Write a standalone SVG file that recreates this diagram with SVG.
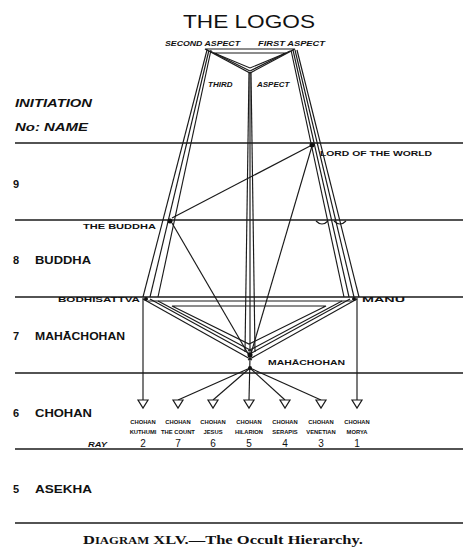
<svg xmlns="http://www.w3.org/2000/svg" xmlns:xlink="http://www.w3.org/1999/xlink" width="463" height="554" viewBox="0 0 463 554">
<style>
.ln{stroke:#1a1a1a;stroke-width:1.15;fill:none}
.hl{stroke:#1a1a1a;stroke-width:1.4}
.t{font-family:"Liberation Sans",Arial,sans-serif;fill:#111}
.it{font-style:italic;font-weight:bold}
.lv{font-size:11px}
.nl{font-size:8px;font-weight:bold}
.ch{font-size:5.8px;font-weight:bold}
.dot{fill:#111}
</style>
<defs>
<path id="tri" d="M-5,0 L5,0 L0,8 Z" fill="#fff" stroke="#1a1a1a" stroke-width="1.2"/>
</defs>
<rect width="463" height="554" fill="#fff"/>

<g id="levels">
<line class="hl" x1="15" y1="143" x2="463" y2="143"/>
<line class="hl" x1="15" y1="220" x2="463" y2="220"/>
<line class="hl" x1="15" y1="297" x2="463" y2="297"/>
<line class="hl" x1="15" y1="373" x2="463" y2="373"/>
<line class="hl" x1="15" y1="449" x2="463" y2="449"/>
<line class="hl" x1="15" y1="523" x2="463" y2="523" stroke-width="1.8"/>
<text class="t it" font-size="10.5" x="15" y="107" textLength="77" lengthAdjust="spacingAndGlyphs">INITIATION</text>
<text class="t it" font-size="10.5" x="15" y="131" textLength="73" lengthAdjust="spacingAndGlyphs">No:  NAME</text>
<text class="t lv" x="13" y="188" font-weight="bold">9</text>
<text class="t lv" x="13" y="264" font-weight="bold">8</text>
<text class="t lv" x="35" y="264" font-weight="bold" textLength="56" lengthAdjust="spacingAndGlyphs">BUDDHA</text>
<text class="t lv" x="13" y="340" font-weight="bold">7</text>
<text class="t lv" x="35" y="340" font-weight="bold" textLength="90" lengthAdjust="spacingAndGlyphs">MAHĀCHOHAN</text>
<text class="t lv" x="13" y="417" font-weight="bold">6</text>
<text class="t lv" x="35" y="417" font-weight="bold" textLength="57" lengthAdjust="spacingAndGlyphs">CHOHAN</text>
<text class="t lv" x="13" y="493" font-weight="bold">5</text>
<text class="t lv" x="35" y="493" font-weight="bold" textLength="57" lengthAdjust="spacingAndGlyphs">ASEKHA</text>
</g>

<g id="connectors">
<polygon class="ln" points="205,49 295,49 250,73" stroke-width="1.4"/>
<polygon class="ln" points="214,53 286,53 250,68"/>
<line class="ln" x1="210" y1="51" x2="250" y2="71"/>
<line class="ln" x1="290" y1="51" x2="250" y2="71"/>
<line class="ln" x1="207" y1="50" x2="143" y2="297"/>
<line class="ln" x1="209" y1="50" x2="150" y2="297"/>
<line class="ln" x1="211" y1="50" x2="158" y2="297"/>
<line class="ln" x1="291" y1="50" x2="344" y2="297"/>
<line class="ln" x1="293" y1="50" x2="349" y2="297"/>
<line class="ln" x1="295" y1="50" x2="354" y2="297"/>
<line class="ln" x1="297" y1="50" x2="359" y2="297"/>
<line class="ln" x1="249" y1="72" x2="245" y2="352"/>
<line class="ln" x1="250" y1="72" x2="250" y2="355"/>
<line class="ln" x1="251" y1="72" x2="255" y2="352"/>
<line class="ln" x1="172" y1="218" x2="312" y2="145"/>
<line class="ln" x1="172" y1="223" x2="250" y2="357"/>
<line class="ln" x1="312" y1="146" x2="250" y2="357"/>
<path class="ln" d="M316,221 Q322,227 328,221 M334,221 Q340,227 346,221"/>
<line class="ln" x1="148" y1="301" x2="352" y2="301"/>
<line class="ln" x1="143" y1="299" x2="252" y2="360"/>
<line class="ln" x1="150" y1="299" x2="252" y2="355"/>
<line class="ln" x1="158" y1="301" x2="252" y2="351"/>
<line class="ln" x1="357" y1="299" x2="248" y2="360"/>
<line class="ln" x1="350" y1="299" x2="248" y2="355"/>
<line class="ln" x1="342" y1="301" x2="248" y2="351"/>
<polygon class="ln" points="172,306 326,306 249,344"/>
<line class="ln" x1="143" y1="298" x2="143" y2="400"/>
<line class="ln" x1="357" y1="298" x2="357" y2="400"/>
<line class="ln" x1="250" y1="368" x2="178" y2="400"/>
<line class="ln" x1="250" y1="368" x2="213" y2="400"/>
<line class="ln" x1="250" y1="357" x2="249" y2="400"/>
<line class="ln" x1="250" y1="368" x2="285" y2="400"/>
<line class="ln" x1="250" y1="368" x2="321" y2="400"/>
</g>

<g id="top">
<text class="t" x="183" y="28" font-size="19" textLength="132" lengthAdjust="spacingAndGlyphs">THE LOGOS</text>
<text class="t it" x="165" y="46" font-size="8" textLength="75" lengthAdjust="spacingAndGlyphs">SECOND ASPECT</text>
<text class="t it" x="258" y="46" font-size="8" textLength="67" lengthAdjust="spacingAndGlyphs">FIRST ASPECT</text>
<text class="t it" font-size="8"><tspan x="208" y="87">THIRD</tspan><tspan x="257" y="87">ASPECT</tspan></text>
</g>

<g id="lord-of-the-world">
<circle class="dot" cx="312" cy="145" r="2.5"/>
<text class="t nl" x="320" y="156" textLength="112" lengthAdjust="spacingAndGlyphs">LORD OF THE WORLD</text>
</g>
<g id="the-buddha">
<circle class="dot" cx="170" cy="221" r="2.5"/>
<text class="t nl" x="83" y="229" textLength="73" lengthAdjust="spacingAndGlyphs">THE BUDDHA</text>
</g>
<g id="bodhisattva">
<circle class="dot" cx="146" cy="299" r="2"/>
<text class="t nl" x="58" y="302" textLength="82" lengthAdjust="spacingAndGlyphs">BODHISATTVA</text>
</g>
<g id="manu">
<circle class="dot" cx="354" cy="299" r="2"/>
<text class="t nl" x="362" y="302" textLength="43" lengthAdjust="spacingAndGlyphs">MANU</text>
</g>
<g id="mahachohan">
<circle class="dot" cx="250" cy="355" r="2.5"/>
<circle class="dot" cx="250" cy="368" r="2"/>
<text class="t nl" x="268" y="365" textLength="77" lengthAdjust="spacingAndGlyphs">MAHĀCHOHAN</text>
</g>

<g id="chohans">
<use xlink:href="#tri" x="143" y="400"/>
<use xlink:href="#tri" x="178" y="400"/>
<use xlink:href="#tri" x="213" y="400"/>
<use xlink:href="#tri" x="249" y="400"/>
<use xlink:href="#tri" x="285" y="400"/>
<use xlink:href="#tri" x="321" y="400"/>
<use xlink:href="#tri" x="357" y="400"/>
<g class="t ch" text-anchor="middle">
<text x="143" y="424">CHOHAN</text><text x="143" y="434">KUTHUMI</text>
<text x="178" y="424">CHOHAN</text><text x="178" y="434">THE COUNT</text>
<text x="213" y="424">CHOHAN</text><text x="213" y="434">JESUS</text>
<text x="249" y="424">CHOHAN</text><text x="249" y="434">HILARION</text>
<text x="285" y="424">CHOHAN</text><text x="285" y="434">SERAPIS</text>
<text x="321" y="424">CHOHAN</text><text x="321" y="434">VENETIAN</text>
<text x="357" y="424">CHOHAN</text><text x="357" y="434">MORYA</text>
</g>
<text class="t it" x="88" y="447" font-size="8" textLength="19" lengthAdjust="spacingAndGlyphs">RAY</text>
<g class="t" font-size="10" text-anchor="middle">
<text x="143" y="447">2</text>
<text x="178" y="447">7</text>
<text x="213" y="447">6</text>
<text x="249" y="447">5</text>
<text x="285" y="447">4</text>
<text x="321" y="447">3</text>
<text x="357" y="447">1</text>
</g>
</g>

<g id="caption">
<text x="83" y="544" font-family="'Liberation Serif','Times New Roman',serif" font-size="13" font-weight="bold" fill="#111" textLength="280" lengthAdjust="spacingAndGlyphs">D<tspan font-size="10">IAGRAM</tspan> XLV.—The Occult Hierarchy.</text>
</g>
</svg>
